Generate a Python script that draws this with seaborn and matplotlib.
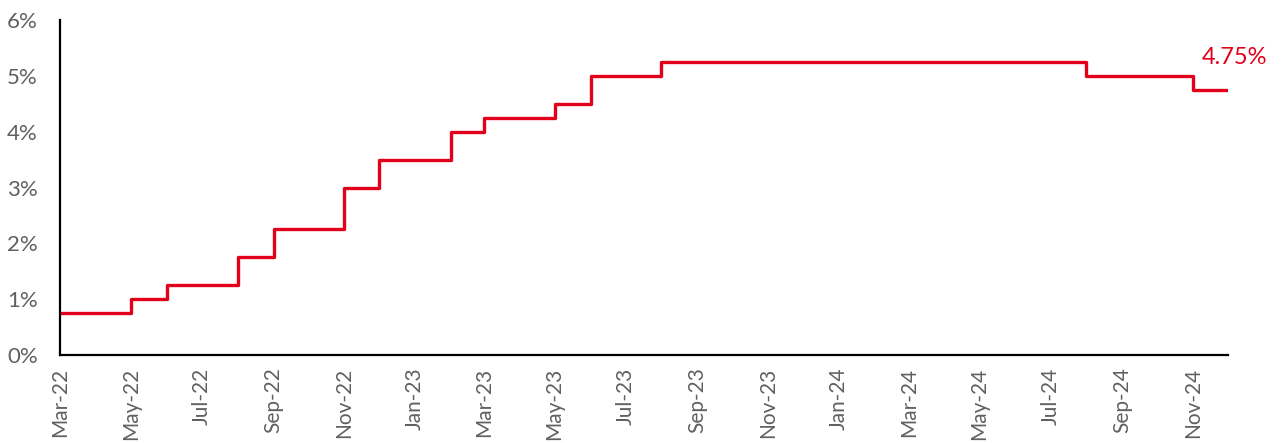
import numpy as np
import pandas as pd
import matplotlib
matplotlib.use("Agg")
import matplotlib.pyplot as plt
import matplotlib.dates as mdates
from matplotlib.ticker import FuncFormatter
import seaborn as sns

# Bank rate in force at month end (monthly points, Mar-22 .. Dec-24)
months = pd.date_range("2022-03-01", "2024-12-01", freq="MS")
rates_2022 = [0.75, 0.75, 1.00, 1.25, 1.25, 1.75, 2.25, 2.25, 3.00, 3.50]   # Mar .. Dec
rates_2023 = [3.50, 4.00, 4.25, 4.25, 4.50, 5.00, 5.00, 5.25, 5.25, 5.25, 5.25, 5.25]
rates_2024 = [5.25, 5.25, 5.25, 5.25, 5.25, 5.25, 5.25, 5.00, 5.00, 5.00, 4.75, 4.75]
rates = rates_2022 + rates_2023 + rates_2024
last_label = "4.75%"

df = pd.DataFrame({"date": months, "rate": rates})

red = "#E2001A"
grey = "#606060"

sns.set_style("white")
plt.rcParams["font.family"] = ["Lato", "DejaVu Sans"]

fig = plt.figure(figsize=(12.81, 4.43), dpi=100)
ax = fig.add_axes([60 / 1281, 1 - 355 / 443, (1228 - 60) / 1281, (355 - 20) / 443])

sns.lineplot(data=df, x="date", y="rate", ax=ax, color=red, linewidth=2.4,
             drawstyle="steps-post")

ax.set_xlim(months[0], months[-1])
ax.set_ylim(0, 6)
ax.set_yticks(range(0, 7))
ax.yaxis.set_major_formatter(FuncFormatter(lambda v, p: f"{v:.0f}%"))
ax.xaxis.set_major_locator(mdates.MonthLocator(bymonth=[1, 3, 5, 7, 9, 11]))
ax.xaxis.set_major_formatter(mdates.DateFormatter("%b-%y"))

ax.tick_params(axis="y", length=0, pad=16, labelsize=16, labelcolor=grey)
ax.tick_params(axis="x", length=0, pad=9, labelsize=15, labelcolor=grey, labelrotation=90)

ax.set_xlabel("")
ax.set_ylabel("")
sns.despine(ax=ax)
for side in ["left", "bottom"]:
    ax.spines[side].set_color("black")
    ax.spines[side].set_linewidth(1.6)
ax.grid(False)

ax.annotate(last_label, xy=(months[-1], rates[-1]), xytext=(28, 16),
            textcoords="offset points", ha="right", va="bottom",
            color=red, fontsize=17, annotation_clip=False)

fig.savefig("out.png", dpi=100)
